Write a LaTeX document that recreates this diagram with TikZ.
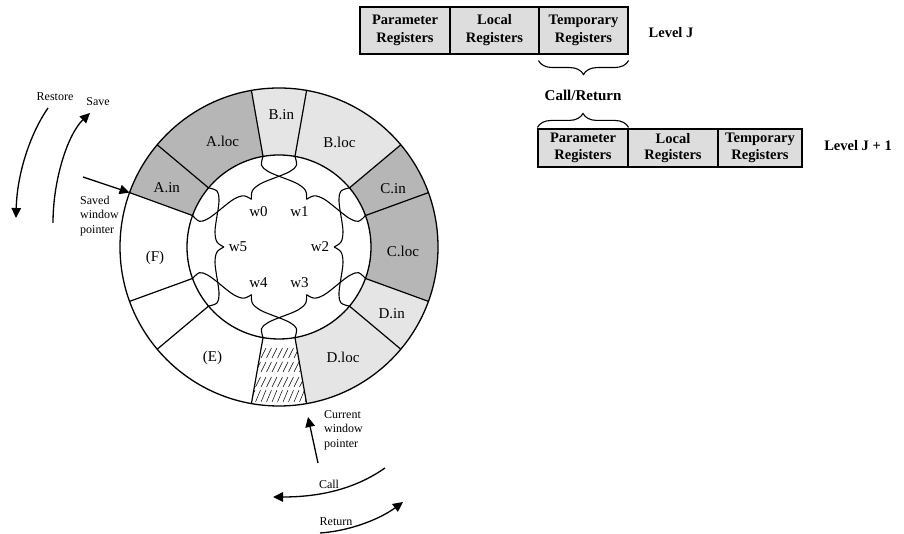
\documentclass[tikz,border=0pt]{standalone}
\usepackage{fontspec}
\setmainfont{Liberation Serif}
\usetikzlibrary{arrows.meta,decorations.pathreplacing,calc}
\definecolor{segdark}{RGB}{182,182,182}
\definecolor{seglight}{RGB}{229,229,229}
\definecolor{boxgray}{RGB}{221,221,221}
\begin{document}
\begin{tikzpicture}[x=1pt,y=1pt,
  regtop/.style={draw, line width=1.1pt, fill=boxgray, minimum height=47pt, inner sep=0pt, align=center, font=\bfseries\fontsize{14.5}{18}\selectfont},
  regbot/.style={draw, line width=1.1pt, fill=boxgray, minimum height=38pt, inner sep=0pt, align=center, font=\bfseries\fontsize{14.5}{16.5}\selectfont},
  boldlbl/.style={font=\bfseries\fontsize{14.5}{17}\selectfont, inner sep=0pt},
  seglbl/.style={font=\fontsize{15}{18}\selectfont, inner sep=0pt},
  smalllbl/.style={font=\fontsize{12}{14.5}\selectfont, inner sep=0pt, align=left},
  arr/.style={line width=1.3pt, -{Triangle[length=10pt,width=9.5pt]}},
  ringline/.style={line width=1.2pt},
  bracecurve/.style={line width=1.1pt, line join=round}
]
\useasboundingbox (0,0) rectangle (904,534);

% ---------- register windows (top right) ----------
\node[regtop, minimum width=90pt] (t1) at (405,503.5) {Parameter\\Registers};
\node[regtop, minimum width=89pt] (t2) at (494.5,503.5) {Local\\Registers};
\node[regtop, minimum width=89pt] (t3) at (583.5,503.5) {Temporary\\Registers};
\node[boldlbl] (lvlj) at (671,501) {Level J};

\node[regbot, minimum width=90pt] (b1) at (583,386) {Parameter\\Registers};
\node[regbot, minimum width=90pt] (b2) at (673,386) {Local\\Registers};
\node[regbot, minimum width=84pt] (b3) at (760,386) {Temporary\\Registers};
\node[boldlbl] (lvlj1) at (858,388) {Level J + 1};

\draw[line width=1.1pt, decorate, decoration={brace, amplitude=14pt}]
  ($(t3.south east)+(0,-6)$) -- ($(t3.south west)+(0,-6)$);
\node[font=\bfseries\fontsize{15}{18}\selectfont, inner sep=0pt] (cr) at (583,439) {Call/Return};
\draw[line width=1.1pt, decorate, decoration={brace, amplitude=14pt}]
  ($(b1.north west)+(0,1)$) -- ($(b1.north east)+(0,1)$);

% ---------- ring of windows ----------
\begin{scope}[shift={(279,287)}]
  \foreach \a/\b/\col in {140/160/segdark, 100/140/segdark, 80/100/seglight, 40/80/seglight,
                          20/40/segdark, -20/20/segdark, -40/-20/seglight, -80/-40/seglight}
    \fill[\col] (\a:92) arc[start angle=\a, end angle=\b, radius=92]
      -- (\b:159) arc[start angle=\b, end angle=\a, radius=159] -- cycle;
  % hatched segment
  \begin{scope}
    \clip (-100:92) arc[start angle=-100, end angle=-80, radius=92]
      -- (-80:159) arc[start angle=-80, end angle=-100, radius=159] -- cycle;
    \foreach \yl/\yh in {-111/-101, -125/-115, -140/-130, -155/-143}
      \foreach \x in {-40,-34.5,...,40}
        \draw[line width=0.5pt] (\x,\yl) -- (\x+5,\yh);
  \end{scope}
  \foreach \a in {160,140,100,80,40,20,-20,-40,-80,-100,-140,-160}
    \draw[ringline] (\a:92) -- (\a:159);
  \draw[line width=1.3pt] (0,0) circle[radius=159];
  \draw[line width=1.3pt] (0,0) circle[radius=92];
  % braces
  \foreach \t in {120,60,0,-60,-120,180} {
    \begin{scope}[rotate=\t]
      \draw[bracecurve] plot[smooth, tension=0.6] coordinates
        {(70.5,59.1) (62,56) (60,48) (61,37) (62.5,28) (64,15) (62,5) (55,0)};
      \draw[bracecurve] plot[smooth, tension=0.6] coordinates
        {(70.5,-59.1) (62,-56) (60,-48) (61,-37) (62.5,-28) (64,-15) (62,-5) (55,0)};
    \end{scope}
  }
  \foreach \t/\l in {120/w0, 60/w1, 0/w2, -60/w3, -120/w4, 180/w5}
    \node[seglbl] (\l) at (\t:41) {\l};
  % segment labels
  \node[seglbl] (ain)  at (152:127) {A.in};
  \node[seglbl] (aloc) at (118:120) {A.loc};
  \node[seglbl] (bin)  at (89:132) {B.in};
  \node[seglbl] (bloc) at (60:121) {B.loc};
  \node[seglbl] (cin)  at (27:128) {C.in};
  \node[seglbl] (cloc) at (-2:124) {C.loc};
  \node[seglbl] (din)  at (-30.7:131) {D.in};
  \node[seglbl] (dloc) at (-60:128) {D.loc};
  \node[seglbl] (eloc) at (-121:129) {(E)};
  \node[seglbl] (floc) at (185:124.5) {(F)};
  \coordinate (swp) at (160:159);
\end{scope}

% ---------- pointers and rotation arrows ----------
\coordinate (swpstart) at (83,357);
\draw[arr] (swpstart) -- (swp);
\node[smalllbl, anchor=west] (swptxt) at (80,318) {Saved\\window\\pointer};

\coordinate (rs1) at (48,426);
\coordinate (rs2) at (16,316);
\draw[arr] (rs1) .. controls (30,400) and (17,360) .. (rs2);
\node[smalllbl] (restore) at (55,437) {Restore};

\coordinate (sv1) at (53,311);
\coordinate (sv2) at (90,421);
\draw[arr] (sv1) .. controls (53,355) and (68,400) .. (sv2);
\node[smalllbl] (save) at (98,432) {Save};

\coordinate (cwp1) at (318,71);
\coordinate (cwp2) at (308,117);
\draw[arr] (cwp1) -- (cwp2);
\node[smalllbl, anchor=west] (cwptxt) at (324,104) {Current\\window\\pointer};

\coordinate (cl1) at (385,66);
\coordinate (cl2) at (273,37);
\draw[arr] (cl1) .. controls (355,45) and (320,37) .. (cl2);
\node[smalllbl] (call) at (329,50) {Call};

\coordinate (rt1) at (320,1);
\coordinate (rt2) at (403,32);
\draw[arr] (rt1) .. controls (350,3) and (380,15) .. (rt2);
\node[smalllbl] (ret) at (336,12) {Return};
\end{tikzpicture}
\end{document}
